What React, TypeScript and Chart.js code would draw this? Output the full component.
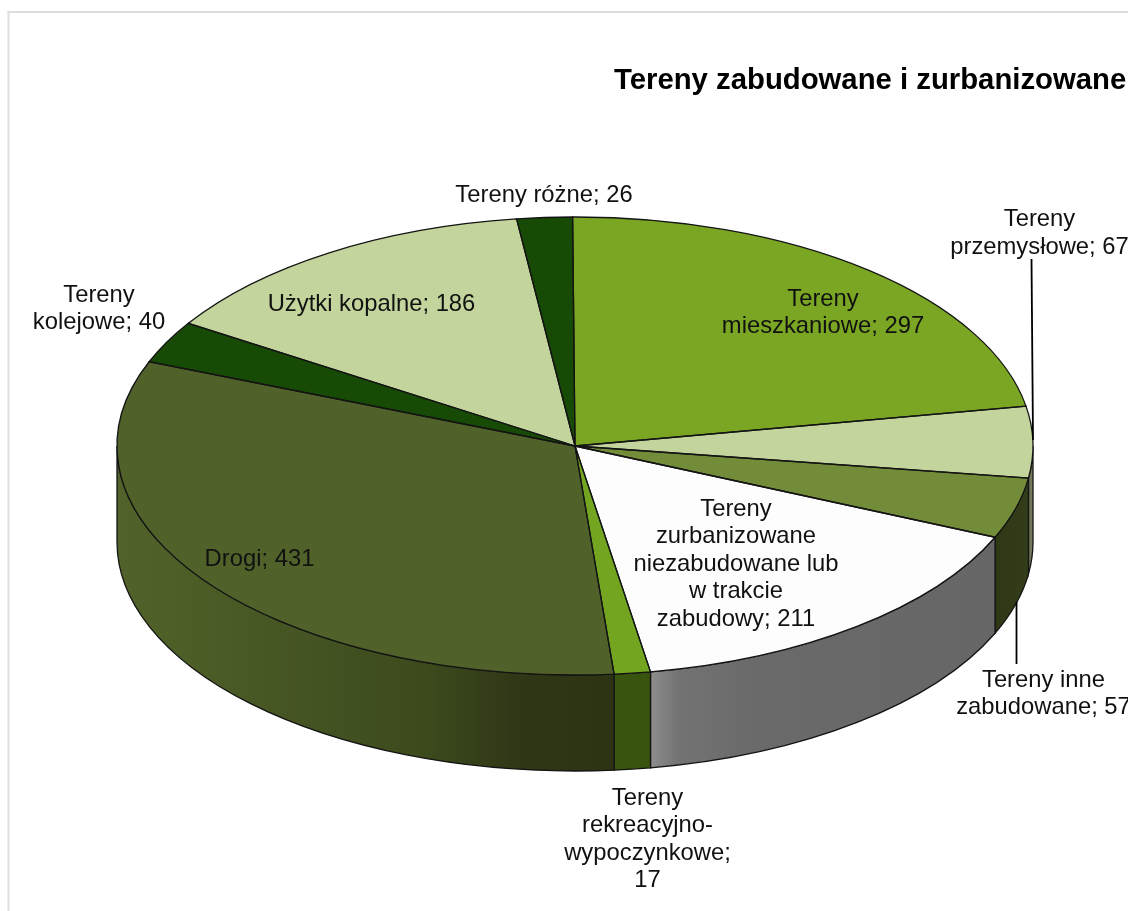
import React, { useEffect, useRef } from "react";
import { Chart, registerables } from "chart.js";

Chart.register(...registerables);

const TITLE = "Tereny zabudowane i zurbanizowane";
const categories = [
  "Tereny mieszkaniowe",
  "Tereny przemysłowe",
  "Tereny inne zabudowane",
  "Tereny zurbanizowane niezabudowane lub w trakcie zabudowy",
  "Tereny rekreacyjno-wypoczynkowe",
  "Drogi",
  "Tereny kolejowe",
  "Użytki kopalne",
  "Tereny różne",
];
const values = [297, 67, 57, 211, 17, 431, 40, 186, 26];
const labelLines = [
  ["Tereny", "mieszkaniowe; 297"],
  ["Tereny", "przemysłowe; 67"],
  ["Tereny inne", "zabudowane; 57"],
  ["Tereny", "zurbanizowane", "niezabudowane lub", "w trakcie", "zabudowy; 211"],
  ["Tereny", "rekreacyjno-", "wypoczynkowe;", "17"],
  ["Drogi; 431"],
  ["Tereny", "kolejowe; 40"],
  ["Użytki kopalne; 186"],
  ["Tereny różne; 26"],
];
const topColors = ["#7aa624", "#c3d59c", "#728c3a", "#fdfdfd", "#74a520", "#50622a", "#174a05", "#c3d59c", "#174a05"];
const wallStops: [number, string][][] = [
  [[0, "#5c7c1b"], [1, "#5c7c1b"]],
  [[0, "#6b6f52"], [1, "#7c7f62"]],
  [[0, "#2f3816"], [1, "#333d19"]],
  [[0, "#8e8e8e"], [0.08, "#737373"], [0.3, "#6a6a6a"], [1, "#666666"]],
  [[0, "#39540e"], [1, "#39540e"]],
  [[0, "#51632a"], [0.18, "#4b5c26"], [0.4, "#445322"], [0.62, "#3c4a1d"], [0.8, "#2f3816"], [1, "#2b3313"]],
  [[0, "#174a05"], [1, "#174a05"]],
  [[0, "#93a176"], [1, "#93a176"]],
  [[0, "#174a05"], [1, "#174a05"]],
];
// centre x / first-line centre y of each slice label
const labelAnchors: [number, number][] = [
  [823, 299], [1039.5, 219.5], [1043.5, 680], [736, 509], [647.5, 798], [259.5, 559], [99, 295], [371.5, 304], [544, 195],
];
const LINE_H = 27.5;
const leaders: [number, number, number, number][] = [
  [1031.5, 259, 1033, 440],
  [1016.5, 602, 1016.5, 664],
];

const TILT = 0.5;
const DEPTH = 96;
const OUTLINE = "#141414";
const FONT = '"Liberation Sans", Arial, sans-serif';

const pie3d = {
  id: "pie3d",
  beforeDraw(chart: any) {
    const { ctx } = chart;
    ctx.save();
    ctx.fillStyle = "#ffffff";
    ctx.fillRect(0, 0, chart.width, chart.height);
    ctx.fillStyle = "#dedede";
    ctx.fillRect(7.5, 11, 2, chart.height - 11);
    ctx.fillRect(7.5, 11, chart.width - 7.5, 2);
    ctx.restore();
  },
  beforeDatasetsDraw(chart: any) {
    const { ctx } = chart;
    const arcs = chart.getDatasetMeta(0).data;
    const { x: cx, y: cy, outerRadius: R } = arcs[0];
    const Ry = R * TILT;
    arcs.forEach((arc: any, i: number) => {
      const s = Math.max(arc.startAngle, 0);
      const e = Math.min(arc.endAngle, Math.PI);
      if (e <= s) return;
      const x0 = cx + R * Math.cos(s);
      const x1 = cx + R * Math.cos(e);
      const g = ctx.createLinearGradient(x1, 0, x0, 0);
      wallStops[i].forEach(([p, c]) => g.addColorStop(p, c));
      ctx.beginPath();
      ctx.ellipse(cx, cy, R, Ry, 0, s, e);
      ctx.lineTo(x1, cy + Ry * Math.sin(e) + DEPTH);
      ctx.ellipse(cx, cy + DEPTH, R, Ry, 0, e, s, true);
      ctx.closePath();
      ctx.fillStyle = g;
      ctx.fill();
      ctx.strokeStyle = OUTLINE;
      ctx.lineWidth = 1.3;
      ctx.stroke();
    });
    ctx.save();
    ctx.translate(0, cy);
    ctx.scale(1, TILT);
    ctx.translate(0, -cy);
  },
  afterDatasetsDraw(chart: any) {
    const { ctx } = chart;
    ctx.restore();
    const arcs = chart.getDatasetMeta(0).data;
    const { x: cx, y: cy, outerRadius: R } = arcs[0];
    const Ry = R * TILT;
    ctx.save();
    ctx.strokeStyle = OUTLINE;
    ctx.lineWidth = 1.3;
    arcs.forEach((arc: any) => {
      ctx.beginPath();
      ctx.moveTo(cx, cy);
      ctx.ellipse(cx, cy, R, Ry, 0, arc.startAngle, arc.endAngle);
      ctx.closePath();
      ctx.stroke();
    });
    ctx.strokeStyle = "#000000";
    ctx.lineWidth = 1.8;
    leaders.forEach(([a, b, c, d]) => {
      ctx.beginPath();
      ctx.moveTo(a, b);
      ctx.lineTo(c, d);
      ctx.stroke();
    });
    ctx.fillStyle = "#111111";
    ctx.textAlign = "center";
    ctx.textBaseline = "middle";
    ctx.font = `23.8px ${FONT}`;
    labelLines.forEach((lines, i) => {
      const [x, y] = labelAnchors[i];
      lines.forEach((t, k) => ctx.fillText(t, x, y + k * LINE_H));
    });
    ctx.textAlign = "left";
    ctx.textBaseline = "alphabetic";
    ctx.fillStyle = "#000000";
    ctx.font = `bold 29.3px ${FONT}`;
    ctx.fillText(TITLE, 614, 89);
    ctx.restore();
  },
};

export default function App() {
  const ref = useRef<HTMLCanvasElement>(null);
  useEffect(() => {
    if (!ref.current) return;
    const chart = new Chart(ref.current, {
      type: "pie",
      data: {
        labels: categories,
        datasets: [{ data: values, backgroundColor: topColors, borderWidth: 0, clip: false, radius: 458 } as any],
      },
      options: {
        responsive: false,
        animation: false,
        rotation: -0.3,
        layout: { padding: { left: 22, right: 0, top: 0, bottom: 19 } },
        plugins: { legend: { display: false }, tooltip: { enabled: false }, title: { display: false } },
      },
      plugins: [pie3d],
    } as any);
    return () => chart.destroy();
  }, []);
  return (
    <canvas
      ref={ref}
      width={1128}
      height={911}
      style={{ position: "absolute", left: 0, top: 0, display: "block" }}
    />
  );
}
